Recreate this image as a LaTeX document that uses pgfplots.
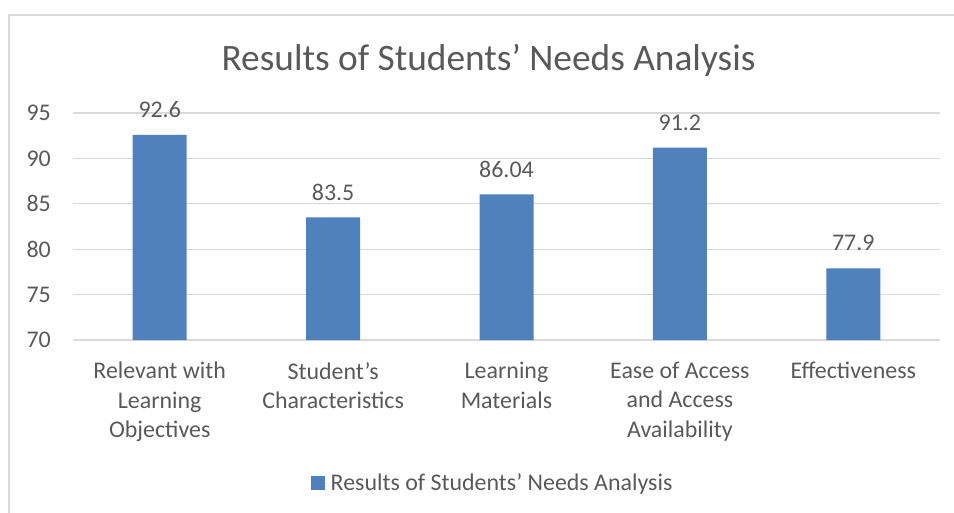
\documentclass[border=0pt]{standalone}
\usepackage{pgfplots}
\pgfplotsset{compat=1.18}
\usepackage{fontspec}
\setmainfont{Carlito}
\definecolor{barblue}{HTML}{4F81BD}
\definecolor{txtgray}{HTML}{595959}
\definecolor{gridgray}{HTML}{D9D9D9}
\begin{document}
\begin{tikzpicture}
\useasboundingbox (0,0) rectangle (954bp,-513bp);
\draw[gridgray, line width=1.3bp] (9bp,-513bp) |- (954bp,-15bp);
\node[txtgray, font=\fontsize{37.5}{42}\selectfont, anchor=center] at (488.5bp,-60bp) {Results of Students’ Needs Analysis};
\begin{axis}[
  at={(73bp,-340bp)}, anchor=south west,
  scale only axis, width=867bp, height=227bp,
  xmin=-0.5, xmax=4.5, ymin=70, ymax=95,
  ytick={70,75,80,85,90,95},
  xtick=data,
  xticklabels={{Relevant with\\Learning\\Objectives},{Student’s\\Characteristics},{Learning\\Materials},{Ease of Access\\and Access\\Availability},{Effectiveness}},
  axis line style={draw=none},
  major tick length=0pt,
  ymajorgrids, grid style={gridgray, line width=1.3bp},
  /pgf/number format/assume math mode=true,
  yticklabel style={font=\fontsize{24}{28}\selectfont, text=txtgray, inner sep=0pt, anchor=east, xshift=-22bp},
  xticklabel style={font=\fontsize{24}{29.5}\selectfont, text=txtgray, inner sep=0pt, anchor=north, align=center, yshift=-22bp},
  ybar, bar width=54bp,
  nodes near coords,
  nodes near coords style={font=\fontsize{24}{28}\selectfont, text=txtgray, anchor=center, yshift=25bp, /pgf/number format/precision=2},
  legend style={at={(0.4839,-0.63)}, anchor=center, draw=none, fill=none, font=\fontsize{24}{28}\selectfont, text=txtgray, legend cell align=left},
  legend image code/.code={\fill[barblue] (0bp,-7bp) rectangle (14bp,7bp); \path (0bp,0bp) -- (18bp,0bp);},
  clip=false,
]
\addplot[fill=barblue, draw=none] coordinates {(0,92.6) (1,83.5) (2,86.04) (3,91.2) (4,77.9)};
\addlegendentry{Results of Students’ Needs Analysis}
\end{axis}
\end{tikzpicture}
\end{document}
